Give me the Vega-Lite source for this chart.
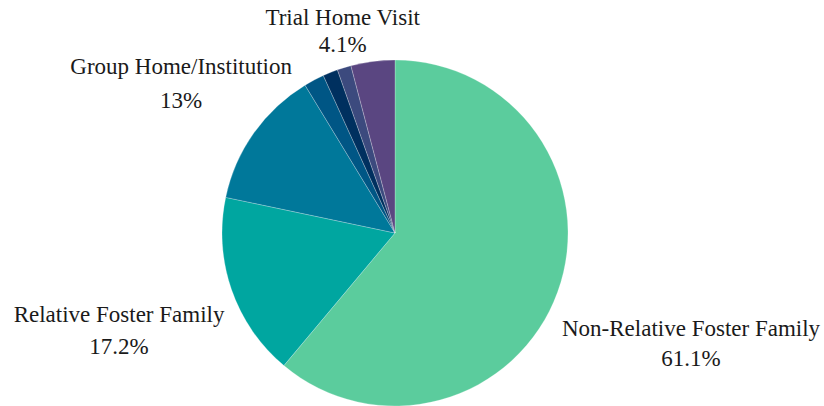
{
  "$schema": "https://vega.github.io/schema/vega-lite/v6.json",
  "width": 790,
  "height": 346,
  "autosize": "none",
  "padding": {"left": 0, "top": 60, "right": 34, "bottom": 0},
  "background": "white",
  "data": {
    "values": [
      {"category": "Non-Relative Foster Family", "pct": 61.1, "order": 1},
      {"category": "Relative Foster Family", "pct": 17.2, "order": 2},
      {"category": "Group Home/Institution", "pct": 13, "order": 3},
      {"category": "Pre-Adoptive Home", "pct": 1.9, "order": 4},
      {"category": "Runaway", "pct": 1.4, "order": 5},
      {"category": "Supervised Independent Living", "pct": 1.3, "order": 6},
      {"category": "Trial Home Visit", "pct": 4.1, "order": 7}
    ]
  },
  "transform": [
    {"stack": "pct", "groupby": [], "sort": [{"field": "order", "order": "ascending"}], "as": ["s0", "s1"]},
    {"calculate": "(datum.s0 + datum.s1) / 2", "as": "mid"},
    {"calculate": "[datum.category, datum.pct + '%']", "as": "lbl"}
  ],
  "config": {"view": {"stroke": null}},
  "layer": [
    {
      "mark": {"type": "arc", "outerRadius": 173, "stroke": "#ffffff", "strokeWidth": 0.4, "strokeOpacity": 0.6},
      "encoding": {
        "theta": {"field": "s0", "type": "quantitative", "scale": {"domain": [0, 100], "zero": true}},
        "theta2": {"field": "s1"},
        "color": {
          "field": "category",
          "type": "nominal",
          "legend": null,
          "scale": {
            "domain": ["Non-Relative Foster Family", "Relative Foster Family", "Group Home/Institution", "Pre-Adoptive Home", "Runaway", "Supervised Independent Living", "Trial Home Visit"],
            "range": ["#5BCC9D", "#00A6A0", "#00789A", "#005685", "#00305F", "#3C4A7E", "#5A4681"]
          }
        }
      }
    },
    {
      "transform": [{"filter": "datum.order == 1"}],
      "mark": {"type": "text", "radius": 315, "dy": -12, "font": "Liberation Serif", "fontSize": 23, "lineHeight": 30, "fill": "#1a1a1a", "align": "center", "baseline": "middle"},
      "encoding": {"theta": {"field": "mid", "type": "quantitative", "scale": {"domain": [0, 100], "zero": true}}, "text": {"field": "lbl"}}
    },
    {
      "transform": [{"filter": "datum.order == 2"}],
      "mark": {"type": "text", "radius": 292, "dy": -13, "font": "Liberation Serif", "fontSize": 23, "lineHeight": 32, "fill": "#1a1a1a", "align": "center", "baseline": "middle"},
      "encoding": {"theta": {"field": "mid", "type": "quantitative", "scale": {"domain": [0, 100], "zero": true}}, "text": {"field": "lbl"}}
    },
    {
      "transform": [{"filter": "datum.order == 3"}],
      "mark": {"type": "text", "radius": 262, "dy": -15, "font": "Liberation Serif", "fontSize": 23, "lineHeight": 34, "fill": "#1a1a1a", "align": "center", "baseline": "middle"},
      "encoding": {"theta": {"field": "mid", "type": "quantitative", "scale": {"domain": [0, 100], "zero": true}}, "text": {"field": "lbl"}}
    },
    {
      "transform": [{"filter": "datum.order == 7"}],
      "mark": {"type": "text", "radius": 205, "dx": -26, "dy": -12, "font": "Liberation Serif", "fontSize": 23, "lineHeight": 27, "fill": "#1a1a1a", "align": "center", "baseline": "middle"},
      "encoding": {"theta": {"field": "mid", "type": "quantitative", "scale": {"domain": [0, 100], "zero": true}}, "text": {"field": "lbl"}}
    }
  ]
}
